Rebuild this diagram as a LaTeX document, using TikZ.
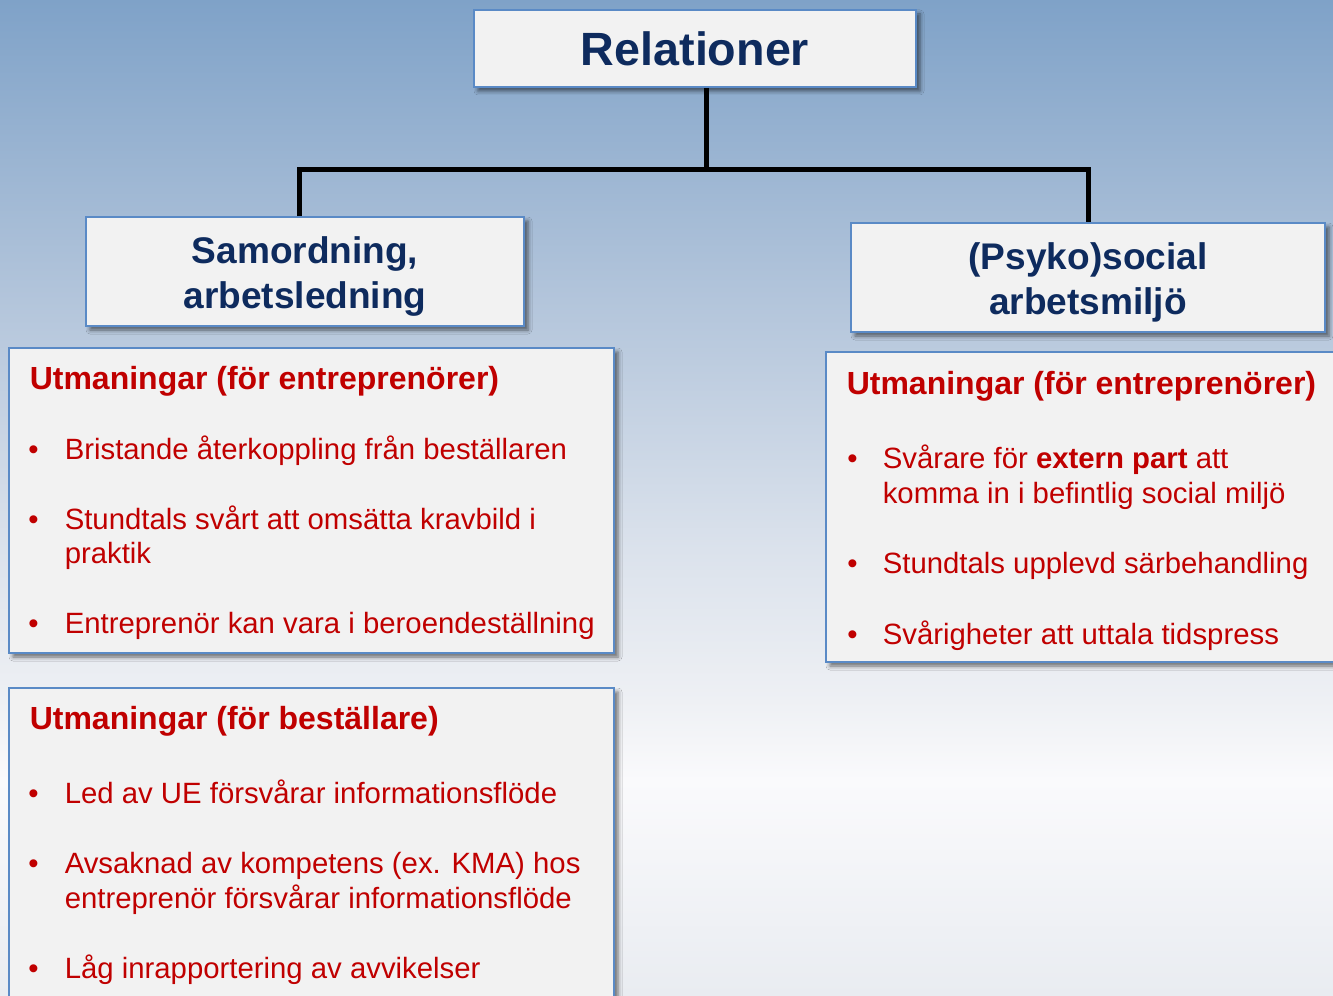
\documentclass[tikz,border=0pt]{standalone}
\usepackage{fontspec}
\setmainfont{Liberation Sans}
\usetikzlibrary{shadows.blur}
\definecolor{bgA}{HTML}{7FA2C8}
\definecolor{bgB}{HTML}{B3C5DB}
\definecolor{bgC}{HTML}{DBE2EC}
\definecolor{bgD}{HTML}{EEF0F4}
\definecolor{bgE}{HTML}{FAFAFC}
\definecolor{bgF}{HTML}{E9ECF1}
\definecolor{boxfill}{HTML}{F2F2F2}
\definecolor{boxline}{HTML}{5A8AC6}
\definecolor{navy}{HTML}{0E2B5E}
\definecolor{redtxt}{HTML}{C00000}
\pgfdeclareverticalshading{bgshade}{100bp}{color(0bp)=(bgF); color(25bp)=(bgF); color(35.8bp)=(bgE); color(39.8bp)=(bgD); color(47.4bp)=(bgC); color(59.9bp)=(bgB); color(75bp)=(bgA); color(100bp)=(bgA)}
\newcommand\fTitle{\fontsize{35}{40}\selectfont\bfseries}
\newcommand\fSub{\fontsize{27.8}{33.75}\selectfont\bfseries}
\newcommand\fHead{\fontsize{24}{28}\selectfont\bfseries}
\newcommand\fBody{\fontsize{22}{26}\selectfont}
\tikzset{
  panel/.style={draw=boxline, line width=1.2pt, fill=boxfill, inner sep=0pt,
    blur shadow={shadow xshift=3pt, shadow yshift=-3pt, shadow blur radius=3pt, shadow opacity=55}},
  conn/.style={line width=3.75pt, black},
  subtxt/.style={inner sep=0pt, text=navy, font=\fSub, align=center},
  headtxt/.style={anchor=base west, inner sep=0pt, text=redtxt, font=\fHead},
  bodytxt/.style={anchor=base west, inner sep=0pt, text=redtxt, font=\fBody},
  bul/.style={anchor=base, inner sep=0pt, text=redtxt, font=\fBody},
}
\begin{document}
\begin{tikzpicture}[x=0.75pt, y=-0.75pt]
\useasboundingbox (0,0) rectangle (1333,995);
\clip (0,0) rectangle (1333,995);
\fill[shading=bgshade] (0,0) rectangle (1333,995);

% title boxes
\node[panel, minimum width=331.5pt, minimum height=57.75pt, text=navy, font=\fTitle] (rel) at (695,48.5) {Relationer};
\node[panel, minimum width=328.5pt, minimum height=81.75pt] (sam) at (305,271.5) {};
\node[subtxt] (samt) at ([yshift=-3.75pt]sam.center) {Samordning,\\arbetsledning};
\node[panel, minimum width=355.5pt, minimum height=81.75pt] (psy) at (1088,277.5) {};
\node[subtxt] (psyt) at ([yshift=-3.75pt]psy.center) {(Psyko)social\\arbetsmilj\"o};

% connectors
\coordinate (j) at (706,169);
\coordinate (jl) at (299,169);
\coordinate (jr) at (1088,169);
\draw[conn] (rel.south -| j) -- (j);
\draw[conn] (sam.north -| jl) -- (jl) -- (jr) -- (psy.north -| jr);

% content panels
\node[panel, minimum width=453.75pt, minimum height=228.75pt] (l1) at (311.5,500.5) {};
\node[panel, minimum width=453.75pt, minimum height=241.5pt] (l2) at (311.5,849) {};
\node[panel, minimum width=389.25pt, minimum height=232.5pt] (r1) at (1085.5,507) {};

% left panel 1
\node[headtxt] (l1h) at (29.5,389) {Utmaningar (för entreprenörer)};
\node[bul] (l1b1) at (33.5,459) {•};
\node[bodytxt] (l1t1) at (64.5,459) {Bristande återkoppling från beställaren};
\node[bul] (l1b2) at (33.5,529) {•};
\node[bodytxt] (l1t2) at (64.5,529) {Stundtals svårt att omsätta kravbild i};
\node[bodytxt] (l1t2b) at (64.5,563) {praktik};
\node[bul] (l1b3) at (33.5,633) {•};
\node[bodytxt] (l1t3) at (64.5,633) {Entreprenör kan vara i beroendeställning};

% left panel 2
\node[headtxt] (l2h) at (29.5,729) {Utmaningar (för beställare)};
\node[bul] (l2b1) at (33.5,803) {•};
\node[bodytxt] (l2t1) at (64.5,803) {Led av UE försvårar informationsflöde};
\node[bul] (l2b2) at (33.5,873) {•};
\node[bodytxt] (l2t2) at (64.5,873) {Avsaknad av kompetens (ex. KMA) hos};
\node[bodytxt] (l2t2b) at (64.5,908) {entreprenör försvårar informationsflöde};
\node[bul] (l2b3) at (33.5,978) {•};
\node[bodytxt] (l2t3) at (64.5,978) {Låg inrapportering av avvikelser};

% right panel
\node[headtxt] (r1h) at (846.5,394) {Utmaningar (för entreprenörer)};
\node[bul] (r1b1) at (852.5,468) {•};
\node[bodytxt] (r1t1) at (882.5,468) {Svårare för \textbf{extern part} att};
\node[bodytxt] (r1t1b) at (882.5,503) {komma in i befintlig social miljö};
\node[bul] (r1b2) at (852.5,573) {•};
\node[bodytxt] (r1t2) at (882.5,573) {Stundtals upplevd särbehandling};
\node[bul] (r1b3) at (852.5,644) {•};
\node[bodytxt] (r1t3) at (882.5,644) {Svårigheter att uttala tidspress};
\end{tikzpicture}
\end{document}
